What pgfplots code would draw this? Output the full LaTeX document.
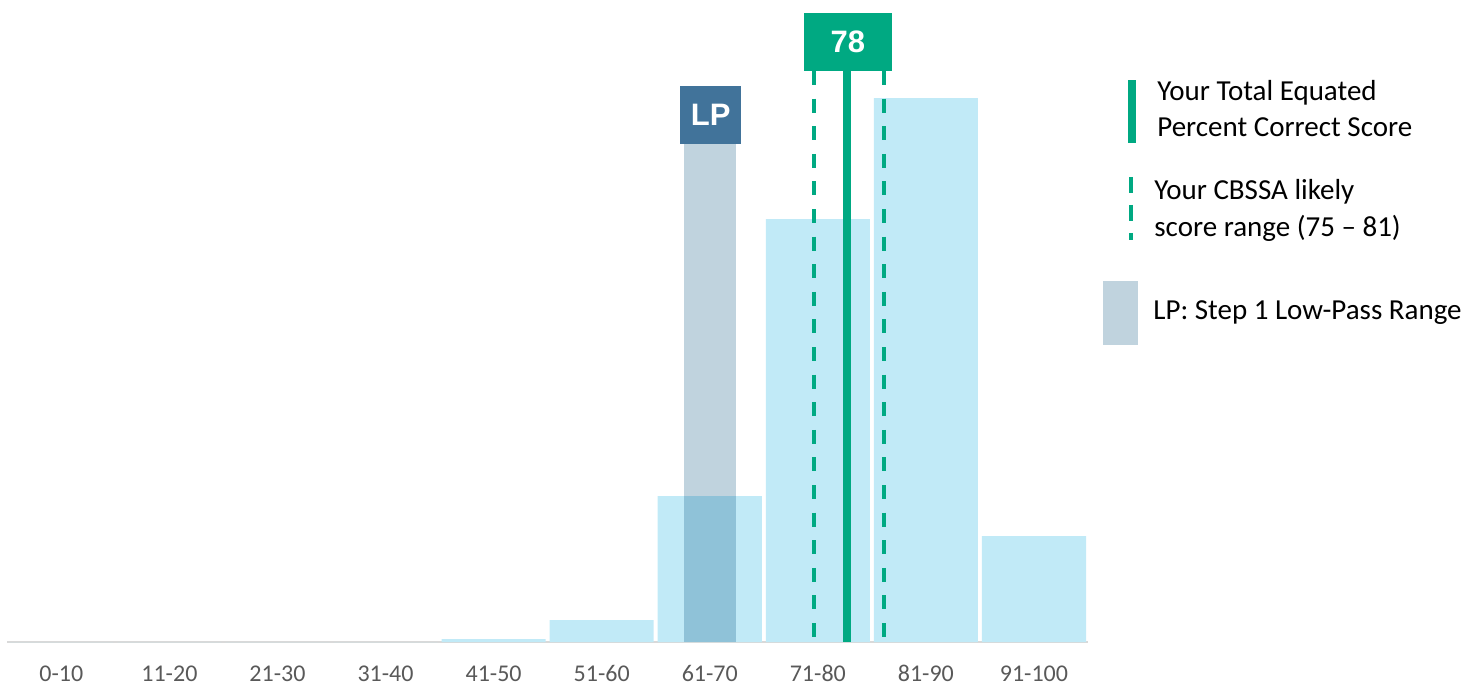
\documentclass[border=0pt]{standalone}
\usepackage{fontspec}
\setmainfont{Carlito}
\newfontfamily\arialb{Liberation Sans}
\usepackage{pgfplots}
\pgfplotsset{compat=1.18}
\definecolor{barblue}{HTML}{C1EAF7}
\definecolor{lpgray}{HTML}{C0D3DE}
\definecolor{lpover}{HTML}{8FC2D8}
\definecolor{lpbox}{HTML}{41739A}
\definecolor{scoregreen}{HTML}{00A982}
\definecolor{axisgray}{HTML}{D9D9D9}
\definecolor{ticktext}{HTML}{595959}
\begin{document}
\begin{tikzpicture}
\path[use as bounding box] (0,0) rectangle (740.5bp,342.5bp);
\begin{axis}[
  at={(3.65bp,21.5bp)}, anchor=south west,
  scale only axis, width=540.35bp, height=315bp,
  xmin=-0.5, xmax=9.5, ymin=0, ymax=630,
  enlargelimits=false, clip=false,
  axis x line*=bottom, axis y line=none,
  axis line style={axisgray, line width=1bp},
  xtick={0,...,9},
  xticklabels={0-10,11-20,21-30,31-40,41-50,51-60,61-70,71-80,81-90,91-100},
  major tick length=0pt,
  xtick style={draw=none},
  xticklabel style={anchor=base, yshift=-19.5bp, font=\fontsize{12bp}{14bp}\selectfont, text=ticktext},
]
% distribution bars (pixel heights above baseline)
\addplot[ybar, bar width=0.963, fill=barblue, draw=none] coordinates {
  (0,0) (1,0) (2,0) (3,0) (4,3) (5,22) (6,146) (7,423) (8,544) (9,106)};
% low-pass range
\addplot[fill=lpgray, draw=none] coordinates {(5.76,146) (5.76,498) (6.24,498) (6.24,146)} -- cycle;
\addplot[fill=lpover, draw=none] coordinates {(5.76,0) (5.76,146) (6.24,146) (6.24,0)} -- cycle;
% score range and score
\addplot[scoregreen, line width=2bp, dash pattern=on 7bp off 6.8bp] coordinates {(6.963,571) (6.963,0)};
\addplot[scoregreen, line width=2bp, dash pattern=on 7bp off 6.8bp] coordinates {(7.61,571) (7.61,0)};
\addplot[scoregreen, line width=4bp] coordinates {(7.27,571) (7.27,0)};
\node[fill=scoregreen, text=white, font=\arialb\bfseries\fontsize{15.5bp}{17bp}\selectfont, minimum width=44bp, minimum height=29bp, inner sep=0pt] at (axis cs:7.278,600.3) {78};
\node[fill=lpbox, text=white, font=\arialb\bfseries\fontsize{15.5bp}{17bp}\selectfont, minimum width=30.5bp, minimum height=29bp, inner sep=0pt] at (axis cs:6.008,527) {LP};
\end{axis}
% legend (image pixel coordinates, 0.5bp per px, y from top)
\begin{scope}[x=0.5bp, y=-0.5bp, yshift=342.5bp]
\fill[scoregreen] (1128,80) rectangle (1136,143);
\draw[scoregreen, line width=2bp, dash pattern=on 8bp off 6bp] (1131,177) -- (1131,240);
\fill[lpgray] (1103,281) rectangle (1138,345);
\begin{scope}[font=\fontsize{14.5bp}{17bp}\selectfont]
\node[anchor=base west, inner sep=0pt] at (1157,100.7) {Your Total Equated};
\node[anchor=base west, inner sep=0pt] at (1157,136.7) {Percent Correct Score};
\node[anchor=base west, inner sep=0pt] at (1154,200) {Your CBSSA likely};
\node[anchor=base west, inner sep=0pt] at (1154,236.7) {score range (75 – 81)};
\node[anchor=base west, inner sep=0pt] at (1153,320) {LP: Step 1 Low-Pass Range};
\end{scope}
\end{scope}
\end{tikzpicture}
\end{document}
